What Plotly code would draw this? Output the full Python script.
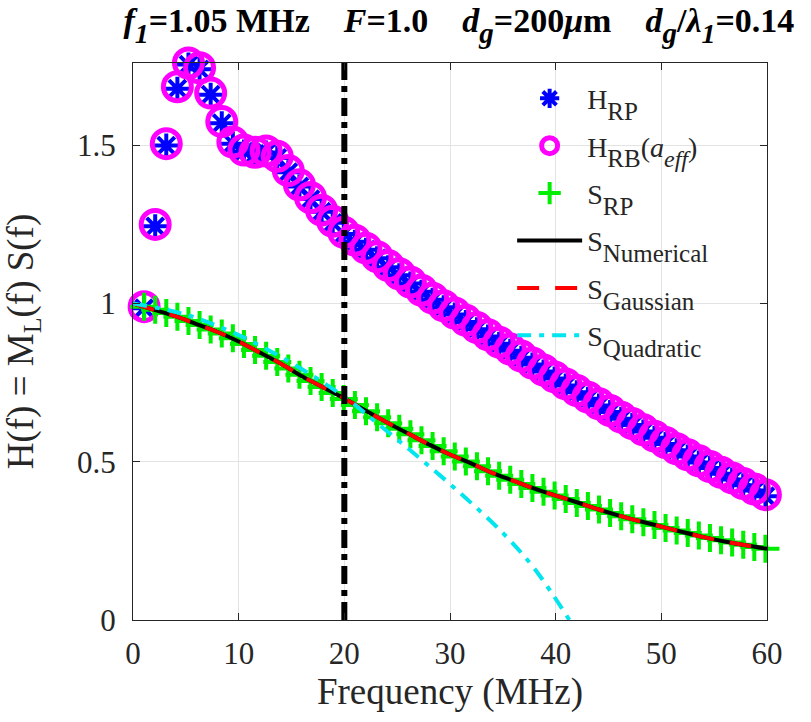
import plotly.graph_objects as go

# Harmonic frequencies (MHz), n * f1 with f1 = 1.05 MHz
freq_harm = [1.05, 2.10, 3.15, 4.20, 5.25, 6.30, 7.35, 8.40, 9.45, 10.50,
             11.55, 12.60, 13.65, 14.70, 15.75, 16.80, 17.85, 18.90, 19.95, 21.00,
             22.05, 23.10, 24.15, 25.20, 26.25, 27.30, 28.35, 29.40, 30.45, 31.50,
             32.55, 33.60, 34.65, 35.70, 36.75, 37.80, 38.85, 39.90, 40.95, 42.00,
             43.05, 44.10, 45.15, 46.20, 47.25, 48.30, 49.35, 50.40, 51.45, 52.50,
             53.55, 54.60, 55.65, 56.70, 57.75, 58.80, 59.85]

h_rb = [0.990, 1.250, 1.505, 1.685, 1.760, 1.745, 1.665, 1.575, 1.510, 1.485,
        1.478, 1.482, 1.465, 1.420, 1.375, 1.335, 1.295, 1.260, 1.225, 1.200,
        1.175, 1.148, 1.120, 1.094, 1.068, 1.042, 1.017, 0.993, 0.970, 0.947,
        0.924, 0.901, 0.878, 0.856, 0.834, 0.812, 0.790, 0.768, 0.746, 0.725,
        0.704, 0.683, 0.662, 0.641, 0.621, 0.601, 0.581, 0.561, 0.541, 0.522,
        0.503, 0.485, 0.467, 0.449, 0.431, 0.414, 0.396]

h_rp = [0.985, 1.244, 1.499, 1.679, 1.755, 1.740, 1.660, 1.570, 1.505, 1.480,
        1.473, 1.477, 1.460, 1.415, 1.370, 1.330, 1.290, 1.255, 1.220, 1.195,
        1.170, 1.143, 1.115, 1.089, 1.063, 1.037, 1.012, 0.988, 0.965, 0.942,
        0.919, 0.896, 0.873, 0.851, 0.829, 0.807, 0.785, 0.763, 0.741, 0.720,
        0.699, 0.678, 0.657, 0.636, 0.616, 0.596, 0.576, 0.556, 0.536, 0.517,
        0.498, 0.480, 0.462, 0.444, 0.426, 0.409, 0.391]

s_rp = [0.990, 0.980, 0.970, 0.958, 0.945, 0.932, 0.918, 0.905, 0.890, 0.872,
        0.853, 0.835, 0.815, 0.795, 0.775, 0.755, 0.736, 0.717, 0.698, 0.679,
        0.660, 0.641, 0.622, 0.604, 0.587, 0.568, 0.550, 0.533, 0.517, 0.501,
        0.486, 0.470, 0.456, 0.443, 0.430, 0.417, 0.405, 0.393, 0.382, 0.370,
        0.360, 0.349, 0.338, 0.328, 0.318, 0.309, 0.300, 0.291, 0.283, 0.275,
        0.267, 0.259, 0.252, 0.245, 0.238, 0.231, 0.225]

# Continuous model curves
freq_curve = [0, 2, 4, 6, 8, 10, 12, 14, 16, 18, 20, 22, 24, 26, 28, 30,
              32, 34, 36, 38, 40, 42, 44, 46, 48, 50, 52, 54, 56, 58, 60]
s_numerical = [1.000, 0.980, 0.960, 0.935, 0.910, 0.880, 0.845, 0.810, 0.770, 0.735,
               0.700, 0.662, 0.625, 0.590, 0.555, 0.523, 0.495, 0.465, 0.440, 0.415,
               0.393, 0.372, 0.350, 0.330, 0.312, 0.295, 0.278, 0.262, 0.248, 0.236,
               0.225]
s_gaussian = [1.000, 0.980, 0.960, 0.935, 0.910, 0.880, 0.845, 0.810, 0.770, 0.735,
              0.700, 0.662, 0.625, 0.590, 0.555, 0.523, 0.495, 0.465, 0.440, 0.415,
              0.393, 0.372, 0.350, 0.330, 0.312, 0.295, 0.278, 0.262, 0.248, 0.236,
              0.225]

freq_quad = [0, 5, 10, 15, 20, 23, 27, 31, 35, 38, 41.3]
s_quadratic = [1.000, 0.965, 0.900, 0.812, 0.705, 0.625, 0.515, 0.400, 0.275, 0.162, 0.0]

# Marker frequency at 20 MHz
f_mark = 20.0
y_top = 1.76

x_ticks = [0, 10, 20, 30, 40, 50, 60]
y_ticks = [0, 0.5, 1, 1.5]
y_tick_text = ["0", "0.5", "1", "1.5"]

SERIF = "Times New Roman, Liberation Serif, DejaVu Serif, serif"
AX = "#262626"
SP = "\u00a0" * 4


def sub(text, size, drop=5):
    """Large subscript, dropped a little further below the baseline."""
    return (f"<sub><span style='font-size:{size}px;baseline-shift:-{drop}px'>"
            f"{text}</span></sub>")


def leg(main, s, tail=""):
    return f"{main}{sub(s, 25)}{tail}"


fig = go.Figure()

fig.add_trace(go.Scatter(
    x=freq_harm, y=h_rp, mode="markers", name=leg("H", "RP"), legendgroup="g1",
    marker=dict(symbol="asterisk-open", size=20, color="#0000FF",
                line=dict(width=4, color="#0000FF")),
    cliponaxis=False))

fig.add_trace(go.Scatter(
    x=freq_harm, y=h_rb, mode="markers",
    name=leg("H", "RB", "(<i>a</i>" + sub("<i>eff</i>", 24) + ")"),
    legendgroup="g2",
    marker=dict(symbol="circle-open", size=28, color="#FF00FF",
                line=dict(width=5, color="#FF00FF")),
    cliponaxis=False))

fig.add_trace(go.Scatter(
    x=freq_harm, y=s_rp, mode="markers", name=leg("S", "RP"), legendgroup="g3",
    marker=dict(symbol="cross-thin-open", size=20, color="#00EE00",
                line=dict(width=4, color="#00EE00")),
    cliponaxis=False))

fig.add_trace(go.Scatter(
    x=freq_curve, y=s_numerical, mode="lines", name=leg("S", "Numerical"), legendgroup="g4",
    line=dict(color="black", width=4, shape="spline")))

fig.add_trace(go.Scatter(
    x=freq_curve, y=s_gaussian, mode="lines", name=leg("S", "Gaussian"), legendgroup="g5",
    line=dict(color="#FF0000", width=4, dash="22px,16px", shape="spline")))

fig.add_trace(go.Scatter(
    x=freq_quad, y=s_quadratic, mode="lines", name=leg("S", "Quadratic"), legendgroup="g6",
    line=dict(color="#00E5EE", width=4, dash="14px,8px,5px,8px", shape="spline")))

fig.add_trace(go.Scatter(
    x=[f_mark, f_mark], y=[0, y_top], mode="lines", showlegend=False,
    line=dict(color="black", width=6, dash="18px,6px,6px,6px")))

title_txt = ("<b><i>f</i>" + sub("<i>1</i>", 28, 4) + "=1.05 MHz" + SP +
             "<i>F</i>=1.0" + SP +
             "<i>d</i>" + sub("<i>g</i>", 29, 4) + "=200<i>\u03bc</i>m" + SP +
             "<i>d</i>" + sub("<i>g</i>", 29, 4) + "/<i>\u03bb</i>" + sub("<i>1</i>", 28, 4) +
             "=0.14</b>")

fig.update_layout(
    width=811, height=722,
    margin=dict(l=133, r=44, t=63, b=102),
    paper_bgcolor="white", plot_bgcolor="white",
    font=dict(family=SERIF, color=AX),
    title=dict(text=title_txt, x=0.514, xref="paper", xanchor="center",
               y=0.972, yref="container", yanchor="middle",
               font=dict(family=SERIF, size=34, color="black")),
    legend=dict(x=0.598, y=0.981, xanchor="left", yanchor="top",
                bgcolor="rgba(0,0,0,0)", borderwidth=0,
                font=dict(family=SERIF, size=28, color=AX),
                itemwidth=65, tracegroupgap=8),
    showlegend=True,
)

fig.update_xaxes(
    range=[0, 60], tickvals=x_ticks, ticks="inside", ticklen=7, tickcolor=AX,
    showline=True, linecolor=AX, linewidth=1, mirror="ticks",
    showgrid=True, gridcolor="#E3E3E3", gridwidth=1, zeroline=False,
    tickfont=dict(family=SERIF, size=31, color=AX), ticklabelstandoff=6,
    title=dict(text="Frequency (MHz)", font=dict(family=SERIF, size=37, color=AX), standoff=4))

fig.update_yaxes(
    range=[0, y_top], tickvals=y_ticks, ticktext=y_tick_text, ticks="inside", ticklen=7,
    tickcolor=AX, showline=True, linecolor=AX, linewidth=1, mirror="ticks",
    showgrid=True, gridcolor="#E3E3E3", gridwidth=1, zeroline=False,
    tickfont=dict(family=SERIF, size=31, color=AX), ticklabelstandoff=10,
    title=dict(text="H(f) = M<sub>L</sub>(f) S(f)", font=dict(family=SERIF, size=37, color=AX), standoff=36))

fig.write_html("out.html")
